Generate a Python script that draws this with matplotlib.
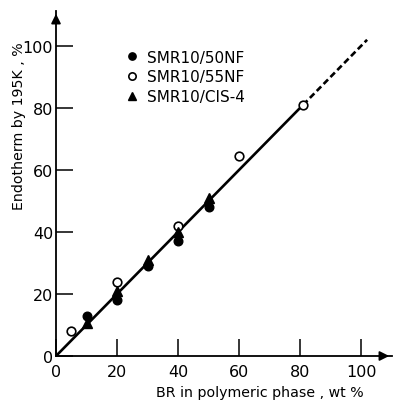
import matplotlib
matplotlib.use("Agg")
import matplotlib.pyplot as plt
from matplotlib import font_manager

# Data
x_50nf = [10, 20, 30, 40, 50]
y_50nf = [13, 18, 29, 37, 48]
x_55nf = [5, 20, 40, 60, 81]
y_55nf = [8, 24, 42, 64.5, 81]
x_cis4 = [10, 20, 30, 40, 50]
y_cis4 = [10.5, 21, 31, 40, 51]
fit_solid_x = [0, 81]
fit_solid_y = [0, 81]
fit_dash_x = [81, 102]
fit_dash_y = [81, 102]
ticks = [0, 20, 40, 60, 80, 100]
labels = ["SMR10/50NF", "SMR10/55NF", "SMR10/CIS-4"]

names = {f.name for f in font_manager.fontManager.ttflist}
fam = ['Liberation Sans Narrow', 'DejaVu Sans'] if 'Liberation Sans Narrow' in names else ['DejaVu Sans']
plt.rcParams['font.family'] = fam

W, H = 396, 402
fig = plt.figure(figsize=(W / 100, H / 100), dpi=100)
x0p, y0p, x1p, y1p = 56, 357, 392, 12
ax = fig.add_axes([x0p / W, (H - y0p) / H, (x1p - x0p) / W, (y0p - y1p) / H])
ax.set_xlim(0, (x1p - x0p) / 3.05)
ax.set_ylim(0, (y0p - y1p) / 3.1)

for s in ['top', 'right']:
    ax.spines[s].set_visible(False)
for s in ['left', 'bottom']:
    ax.spines[s].set_linewidth(1.3)

ax.set_xticks(ticks)
ax.set_yticks(ticks)
ax.set_xticklabels([str(t) for t in ticks])
ax.set_yticklabels([str(t) for t in ticks])
ax.tick_params(direction='in', length=12, width=1.1, labelsize=11.5)
ax.tick_params(axis='x', pad=6)
ax.tick_params(axis='y', pad=2)

ax.plot(fit_solid_x, fit_solid_y, color='black', lw=1.9, solid_capstyle='butt', zorder=2)
ax.plot(fit_dash_x, fit_dash_y, color='black', lw=1.9, dashes=(2.4, 1.3), zorder=2)

ax.plot(x_50nf, y_50nf, 'o', ms=6.2, color='black', zorder=3, label=labels[0])
ax.plot(x_55nf, y_55nf, 'o', ms=6.2, mfc='white', mec='black', mew=1.2, zorder=3, label=labels[1])
ax.plot(x_cis4, y_cis4, '^', ms=6.5, color='black', zorder=3, label=labels[2])

# arrows at axis ends
ax.annotate('', xy=(1.0, 0), xycoords='axes fraction', xytext=(0.96, 0),
            arrowprops=dict(arrowstyle='-|>', color='black', lw=1.3, mutation_scale=14))
ax.annotate('', xy=(0, 1.0), xycoords='axes fraction', xytext=(0, 0.96),
            arrowprops=dict(arrowstyle='-|>', color='black', lw=1.3, mutation_scale=14))

ax.legend(loc='upper left', bbox_to_anchor=(0.18, 0.91), frameon=False, fontsize=11,
          handlelength=1.0, handletextpad=0.5, labelspacing=0.3, borderpad=0, markerscale=0.85)

fig.text(260 / W, 1 - 393 / H, "BR in polymeric phase , wt %", ha='center', va='center', fontsize=10.2)
fig.text(19 / W, 1 - 126 / H, "Endotherm by 195K , %", ha='center', va='center', rotation=90, fontsize=10.2)

fig.savefig("out.png", dpi=100)
